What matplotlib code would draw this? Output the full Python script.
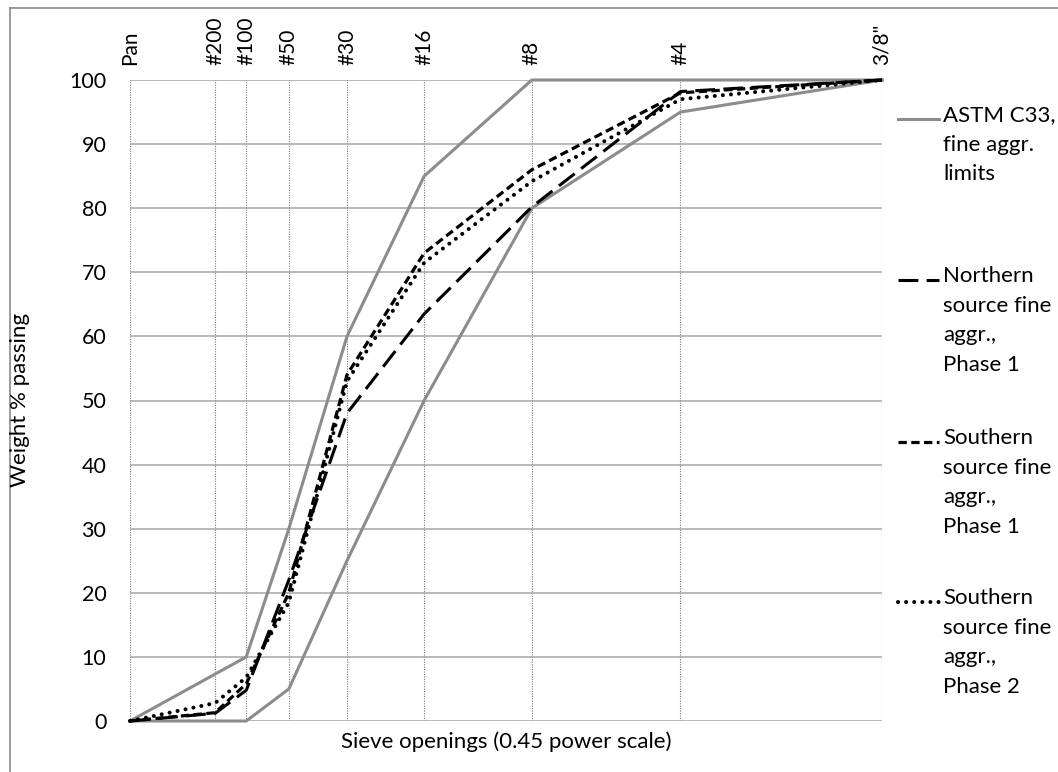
import numpy as np
import matplotlib.pyplot as plt
from matplotlib.lines import Line2D

plt.rcParams['font.family'] = ['Lato', 'DejaVu Sans']

# Sieve designations and openings (mm)
sieve_labels = ['Pan', '#200', '#100', '#50', '#30', '#16', '#8', '#4', '3/8"']
sieve_mm = [0.0, 0.075, 0.15, 0.3, 0.6, 1.18, 2.36, 4.75, 9.5]

# ASTM C33 fine aggregate grading envelope
limit_sieves = ['Pan', '#100', '#50', '#30', '#16', '#8', '#4', '3/8"']
astm_upper = [0, 10, 30, 60, 85, 100, 100, 100]
astm_lower = [0, 0, 5, 25, 50, 80, 95, 100]

# Measured gradations (weight % passing), one value per sieve
northern_p1 = [0, 1.2, 4.8, 22, 48, 63.5, 80.2, 98.2, 100]
southern_p1 = [0, 1.3, 5.8, 20, 54, 73, 86, 98, 100]
southern_p2 = [0, 2.8, 6.8, 18.5, 53, 71.5, 84.2, 97, 100]

legend_labels = ['ASTM C33,\nfine aggr.\nlimits',
                 'Northern\nsource fine\naggr.,\nPhase 1',
                 'Southern\nsource fine\naggr.,\nPhase 1',
                 'Southern\nsource fine\naggr.,\nPhase 2']

W, H = 1058, 772
fig = plt.figure(figsize=(W / 100, H / 100), dpi=100)
ax = fig.add_axes([130 / W, 1 - 721 / H, (882 - 130) / W, (721 - 80) / H])

power = 0.45
ax.set_xscale('function',
              functions=(lambda x: np.power(np.clip(x, 0, None), power),
                         lambda x: np.power(np.clip(x, 0, None), 1 / power)))
ax.set_xlim(0, 9.5)
ax.set_ylim(0, 100)

mm_of = dict(zip(sieve_labels, sieve_mm))
limit_x = [mm_of[s] for s in limit_sieves]

gray = '#8c8c8c'
lw = 2.2
styles = [
    dict(color=gray, lw=lw, ls='-'),
    dict(color='black', lw=lw, ls=(0, (6.5, 2.7))),
    dict(color='black', lw=2.3, ls=(0, (2.6, 1.4))),
    dict(color='black', lw=2.9, ls=(0, (0.01, 2.0)), dash_capstyle='round'),
]

ax.plot(limit_x, astm_upper, **styles[0], zorder=3, clip_on=False)
ax.plot(limit_x, astm_lower, **styles[0], zorder=3, clip_on=False)
ax.plot(sieve_mm, northern_p1, **styles[1], zorder=4, clip_on=False)
ax.plot(sieve_mm, southern_p1, **styles[2], zorder=4, clip_on=False)
ax.plot(sieve_mm, southern_p2, **styles[3], zorder=4, clip_on=False)

# Axes, ticks and grid
for s in ax.spines.values():
    s.set_visible(False)
ax.set_yticks(np.arange(0, 101, 10))
ax.set_xticks(sieve_mm)
ax.set_xticklabels(sieve_labels, rotation=90)
ax.xaxis.tick_top()
ax.tick_params(axis='x', length=0, pad=11, labelsize=15)
ax.tick_params(axis='y', length=0, pad=17, labelsize=15.5)
ax.grid(axis='y', color='#a6a6a6', lw=1.1, ls='-', zorder=1)
ax.grid(axis='x', color='#7a7a7a', lw=0.8, ls=(0, (1, 1.2)), zorder=1)
ax.set_axisbelow(True)

fig.text(20 / W, 1 - 400 / H, 'Weight % passing', rotation=90,
         ha='center', va='center', fontsize=16)
fig.text(506 / W, 1 - 742 / H, 'Sieve openings (0.45 power scale)',
         ha='center', va='center', fontsize=16)

# Legend drawn beside the plot area
key_y = [119, 280, 442, 602]
for y, st, label in zip(key_y, styles, legend_labels):
    fy = 1 - y / H
    fig.add_artist(Line2D([898 / W, 939 / W], [fy, fy], **st))
    fig.text(943 / W, fy + 14 / H, label, ha='left', va='top', fontsize=16,
             linespacing=1.6)

# Chart area border
bx, by = 9.5 / W, 1 - 7.5 / H
fig.add_artist(Line2D([bx, 1], [by, by], color='#8a8a8a', lw=1.2))
fig.add_artist(Line2D([bx, bx], [0, by], color='#8a8a8a', lw=1.2))

fig.savefig('out.png', dpi=100)
